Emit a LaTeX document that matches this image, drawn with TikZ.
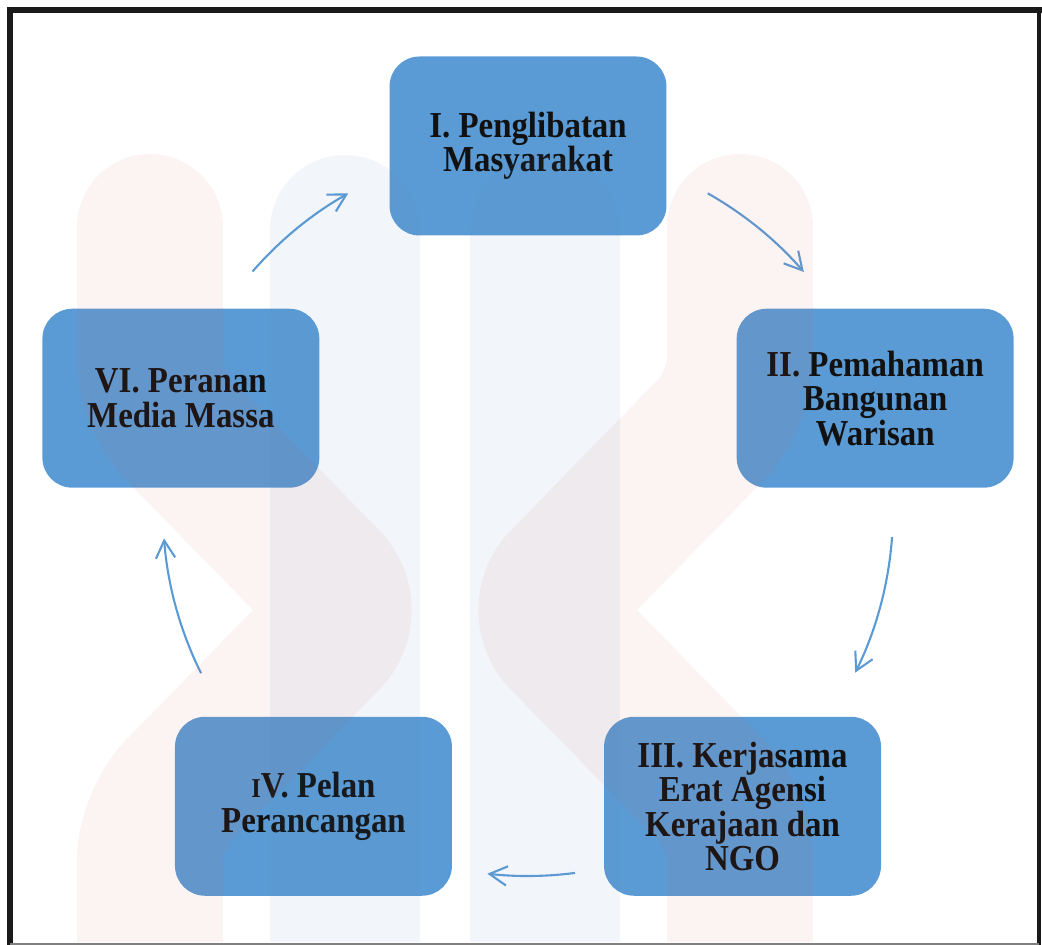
\documentclass[tikz,border=0pt]{standalone}
\usepackage{fontspec}
\setmainfont{Liberation Serif}[BoldFeatures={FakeStretch=0.9}]
\usetikzlibrary{arrows.meta,calc}
\definecolor{boxblue}{HTML}{5B9BD5}
\definecolor{arcblue}{HTML}{5B9BD5}
\definecolor{markred}{RGB}{211,85,83}
\definecolor{markblue}{RGB}{85,135,185}
\definecolor{framegray}{HTML}{1A1A1A}
\definecolor{inkblack}{HTML}{111111}
\begin{document}
\begin{tikzpicture}[x=0.02cm,y=0.02cm,
    stage/.style={rounded corners=0.6cm, fill=boxblue, minimum width=5.54cm,
      minimum height=3.58cm, align=center, text=inkblack, inner sep=0pt,
      font=\fontsize{20.8pt}{19.6pt}\selectfont\bfseries},
    cyc/.style={draw=arcblue, line width=1.2pt,
      -{Straight Barb[length=10pt,width=11pt,line width=1.2pt]}}]
  \useasboundingbox (0,0) rectangle (1042,945);
  \coordinate (hub) at (528,434);
  \path
    (hub) ++(90:365) node[stage] (i) {I. Penglibatan\\Masyarakat}
    (hub) ++(18:365) node[stage] (ii) {II. Pemahaman\\Bangunan\\Warisan}
    (hub) ++(-54:365) node[stage] (iii) {III. Kerjasama\\Erat Agensi\\Kerajaan dan\\NGO}
    (hub) ++(234:365) node[stage] (iv) {{\fontsize{15.5pt}{15.5pt}\selectfont I}V. Pelan\\Perancangan}
    (hub) ++(162:365) node[stage] (vi) {VI. Peranan\\Media Massa};
  % arrows round the cycle
  \begin{scope}
    \draw[cyc] ($(hub)+(139:365)$) arc[start angle=139, end angle=119.5, radius=7.3cm];
    \draw[cyc] ($(hub)+(60.5:365)$) arc[start angle=60.5, end angle=40.9, radius=7.3cm];
    \draw[cyc] ($(hub)+(-4.1:365)$) arc[start angle=-4.1, end angle=-26.3, radius=7.3cm];
    \draw[cyc] ($(hub)+(-82.6:365)$) arc[start angle=-82.6, end angle=-96.4, radius=7.3cm];
    \draw[cyc] ($(hub)+(206.4:365)$) arc[start angle=206.4, end angle=184.3, radius=7.3cm];
  \end{scope}
  % faint watermark
  \begin{scope}
    \clip (13,3) rectangle (1037,932);
    \draw[markred, opacity=0.07, line width=2.92cm, line cap=round, rounded corners=0.8cm]
      (150,718) -- (150,545) -- (355,335) -- (150,125) -- (150,-20);
    \draw[markred, opacity=0.07, line width=2.92cm, line cap=round, rounded corners=0.8cm]
      (740,718) -- (740,545) -- (535,335) -- (740,125) -- (740,-20);
    \draw[markblue, opacity=0.08, line width=3cm, line cap=round] (345,715) -- (345,-20);
    \draw[markblue, opacity=0.08, line width=3cm, line cap=round] (545,715) -- (545,-20);
  \end{scope}
  % frame
  \draw[framegray, line width=0.12cm] (10,0) -- (10,935) -- (1042,935);
  \draw[framegray, line width=0.08cm] (1039,935) -- (1039,0);
  \draw[gray, line width=0.04cm] (10,1) -- (1039,1);
\end{tikzpicture}
\end{document}
